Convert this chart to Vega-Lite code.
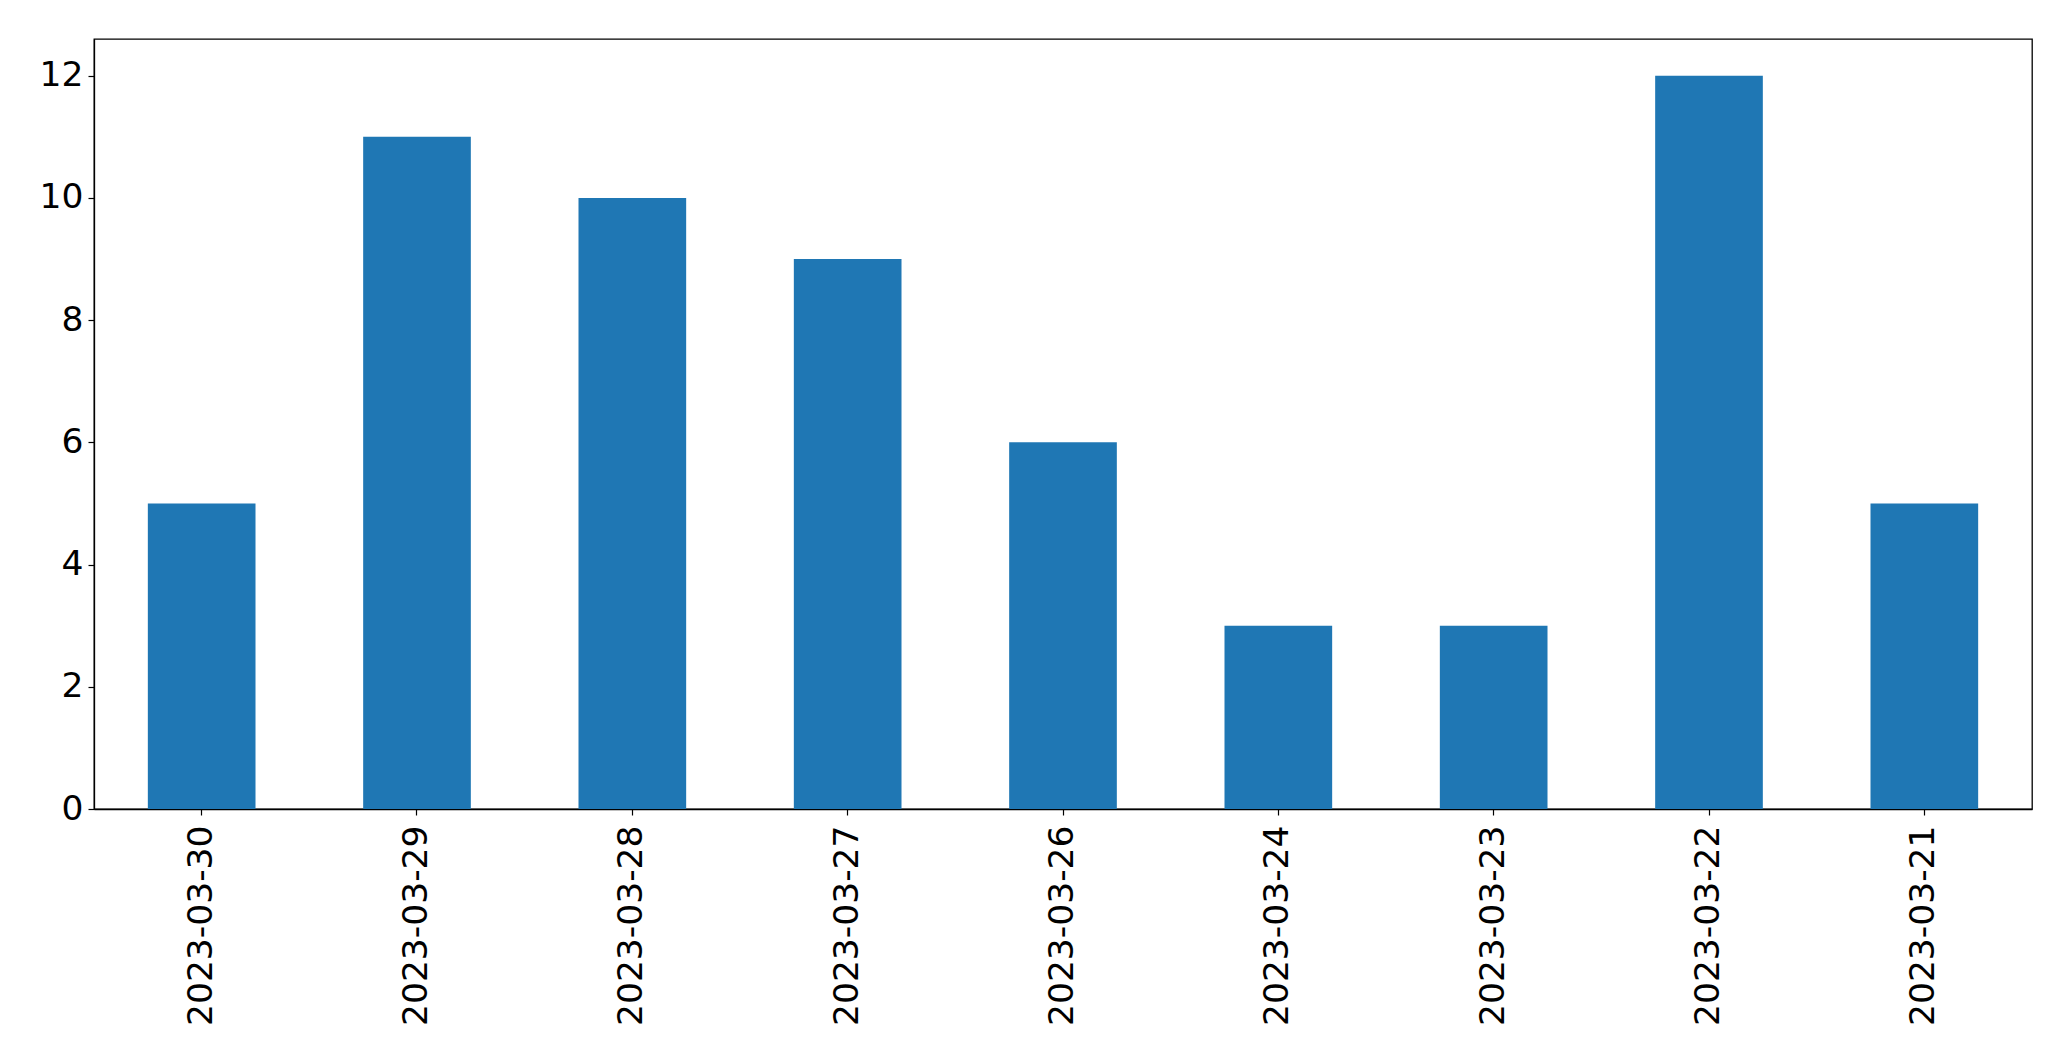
{
  "$schema": "https://vega.github.io/schema/vega-lite/v6.json",
  "width": 1938,
  "height": 770,
  "autosize": {"type": "none"},
  "padding": {"left": 94, "top": 39, "right": 39, "bottom": 252},
  "background": "white",
  "config": {
    "view": {"stroke": "black", "strokeWidth": 1.3},
    "font": "DejaVu Sans",
    "axis": {
      "labelFont": "DejaVu Sans",
      "labelFontSize": 34.5,
      "labelColor": "black",
      "labelLimit": 0,
      "tickColor": "black",
      "domainColor": "black",
      "tickSize": 6,
      "tickWidth": 1.2,
      "domainWidth": 1.3,
      "grid": false,
      "title": null
    }
  },
  "data": {
    "values": [
      {"date": "2023-03-30", "count": 5},
      {"date": "2023-03-29", "count": 11},
      {"date": "2023-03-28", "count": 10},
      {"date": "2023-03-27", "count": 9},
      {"date": "2023-03-26", "count": 6},
      {"date": "2023-03-24", "count": 3},
      {"date": "2023-03-23", "count": 3},
      {"date": "2023-03-22", "count": 12},
      {"date": "2023-03-21", "count": 5}
    ]
  },
  "mark": {"type": "bar", "color": "#1f77b4"},
  "encoding": {
    "x": {
      "field": "date",
      "type": "nominal",
      "sort": null,
      "scale": {"paddingInner": 0.5, "paddingOuter": 0.25},
      "axis": {"labelAngle": -90, "labelPadding": 10}
    },
    "y": {
      "field": "count",
      "type": "quantitative",
      "scale": {"domain": [0, 12.6], "nice": false, "zero": true},
      "axis": {"values": [0, 2, 4, 6, 8, 10, 12], "labelPadding": 5}
    }
  }
}
